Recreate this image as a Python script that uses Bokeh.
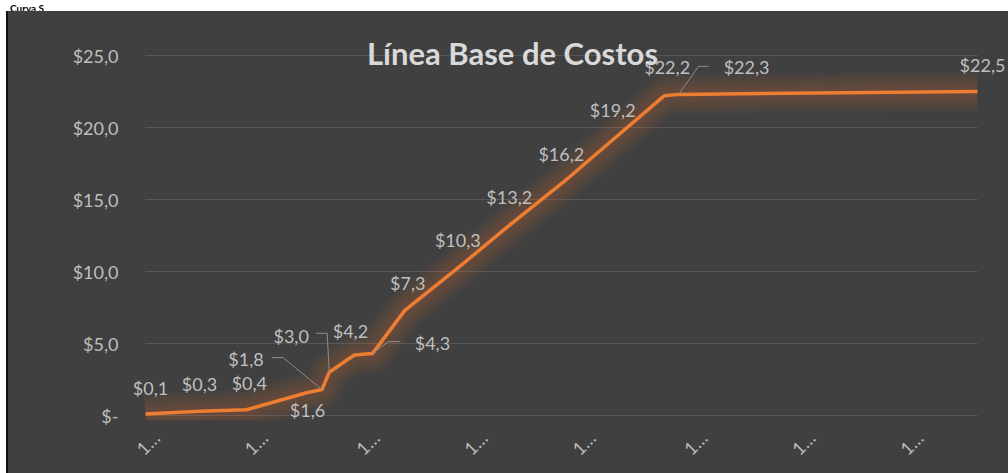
import math
from bokeh.plotting import figure
from bokeh.models import Range1d, FixedTicker, Label, LabelSet, ColumnDataSource, Div, Spacer
from bokeh.layouts import column, row
from bokeh.embed import file_html
from bokeh.resources import INLINE
from bokeh.core.properties import value

# ---------------- data ----------------
header_text = "Curva S"
title_text = "Línea Base de Costos"
days = [0, 15, 28, 45, 49, 51, 58, 63, 72, 87, 101, 116, 130, 144, 148, 231]
costs = [0.1, 0.3, 0.4, 1.6, 1.8, 3.0, 4.2, 4.3, 7.3, 10.3, 13.2, 16.2, 19.2, 22.2, 22.3, 22.5]
x_ticks = [3, 33, 64, 94, 124, 155, 185, 215]
x_tick_labels = ["1…", "1…", "1…", "1…", "1…", "1…", "1…", "1…"]
y_ticks = [0, 5, 10, 15, 20, 25]
y_tick_labels = ["$-", "$5,0", "$10,0", "$15,0", "$20,0", "$25,0"]

# ---------------- styling / placement ----------------
BG = "#404040"
ORANGE = "#ED7D31"
TXT = "#bfbfbf"
FONT = "Lato"

# page-pixel layout of the figure (placed at x=8, y=11)
FIG_X, FIG_Y, FIG_W, FIG_H = 8, 11, 1000, 462
PLOT_L, PLOT_R, PLOT_T, PLOT_B = 145, 977, 55, 415      # Excel plot area
FRAME_L, FRAME_R, FRAME_T, FRAME_B = 125, 1008, 36, 420  # Bokeh frame (room for labels)

X0, X1 = days[0], days[-1]
Y0, Y1 = y_ticks[0], y_ticks[-1]
px_x = (PLOT_R - PLOT_L) / (X1 - X0)
px_y = (PLOT_B - PLOT_T) / (Y1 - Y0)
xr = Range1d(X0 - (PLOT_L - FRAME_L) / px_x, X1 + (FRAME_R - PLOT_R) / px_x)
yr = Range1d(Y0 - (FRAME_B - PLOT_B) / px_y, Y1 + (PLOT_T - FRAME_T) / px_y)

# label offsets in px (right, up)
lab_dx = [5, 0, 3, 0, -76, -38, -4, 60, 3, -1, 0, -2, -1, 3, 68, 5]
lab_dy = [26, 27, 27, -18, 31, 36, 24, 11, 27, 27, 28, 28, 29, 29, 27, 27]
# leader lines: point index -> polyline offsets in px (right, up)
leaders = {
    4: [(0, 0), (-39, 32), (-50, 32)],
    5: [(0, 0), (-2, 39), (-13, 39)],
    7: [(0, 0), (16, 12), (28, 12)],
    14: [(0, 0), (20, 28), (30, 28)],
}

p = figure(
    frame_width=FRAME_R - FRAME_L, frame_height=FRAME_B - FRAME_T,
    min_border_left=FRAME_L - FIG_X, min_border_right=FIG_X + FIG_W - FRAME_R,
    min_border_top=FRAME_T - FIG_Y, min_border_bottom=FIG_Y + FIG_H - FRAME_B,
    x_range=xr, y_range=yr,
    output_backend="svg", toolbar_location=None,
    styles={"background-color": BG},
)
p.background_fill_color = None
p.border_fill_color = None
p.outline_line_color = None

p.xgrid.grid_line_color = None
p.ygrid.grid_line_color = None

for ax in (p.xaxis[0], p.yaxis[0]):
    ax.axis_line_color = None
    ax.major_tick_line_color = None
    ax.minor_tick_line_color = None
    ax.major_label_text_color = TXT
    ax.major_label_text_font = FONT
    ax.major_label_text_font_size = "18px"

p.yaxis.ticker = FixedTicker(ticks=y_ticks)
p.yaxis.major_label_overrides = {t: l for t, l in zip(y_ticks, y_tick_labels)}
p.yaxis.major_label_standoff = 1
p.xaxis.ticker = FixedTicker(ticks=x_ticks)
p.xaxis.major_label_overrides = {t: l for t, l in zip(x_ticks, x_tick_labels)}
p.xaxis.major_label_orientation = math.pi / 4
p.xaxis.major_label_standoff = 8

# gridlines only across the plot area
p.segment(x0=[X0] * len(y_ticks), x1=[X1] * len(y_ticks), y0=y_ticks, y1=y_ticks,
          line_color="#575757", line_width=1)

src = ColumnDataSource(dict(
    x=days, y=costs,
    lab=[("$%.1f" % v).replace(".", ",") for v in costs],
    dx=lab_dx, dy=lab_dy,
))

# glow
for w in [40, 34, 28, 22, 16, 10]:
    p.line("x", "y", source=src, line_width=w, line_color=ORANGE, line_alpha=0.045,
           line_join="round", line_cap="butt")
p.line("x", "y", source=src, line_width=3.5, line_color=ORANGE, line_join="round")

# leader lines
lx, ly = [], []
for i, pts in leaders.items():
    lx.append([days[i] + a / px_x for a, b in pts])
    ly.append([costs[i] + b / px_y for a, b in pts])
p.multi_line(lx, ly, line_color="#8c8c8c", line_width=1)

labels = LabelSet(x="x", y="y", text="lab", source=src, x_offset="dx", y_offset="dy",
                  text_align="center", text_baseline="middle", text_color=TXT,
                  text_font=value(FONT), text_font_size=value("18px"))
p.add_layout(labels)

title = Label(x=X0 + (512 - PLOT_L) / px_x, y=Y1 + 3 / px_y, text=title_text,
              text_align="center", text_baseline="middle",
              text_font=FONT, text_font_style="bold", text_font_size="31px",
              text_color="#d9d9d9")
p.add_layout(title)

head = Div(
    text='<div style="padding-left:10px;font-family:Lato;font-weight:bold;'
         'font-size:10px;line-height:11px;color:#000;white-space:nowrap">' + header_text + '</div>',
    width=1008, height=FIG_Y, margin=0,
    styles={"background-color": "white"},
)
edge = Div(text="", width=2, height=FIG_H, margin=0, styles={"background-color": "#111111"})

layout = column(head, row(Spacer(width=FIG_X - 2, height=FIG_H, margin=0), edge, p, spacing=0),
                spacing=0)
open("out.html", "w").write(file_html(layout, INLINE))
